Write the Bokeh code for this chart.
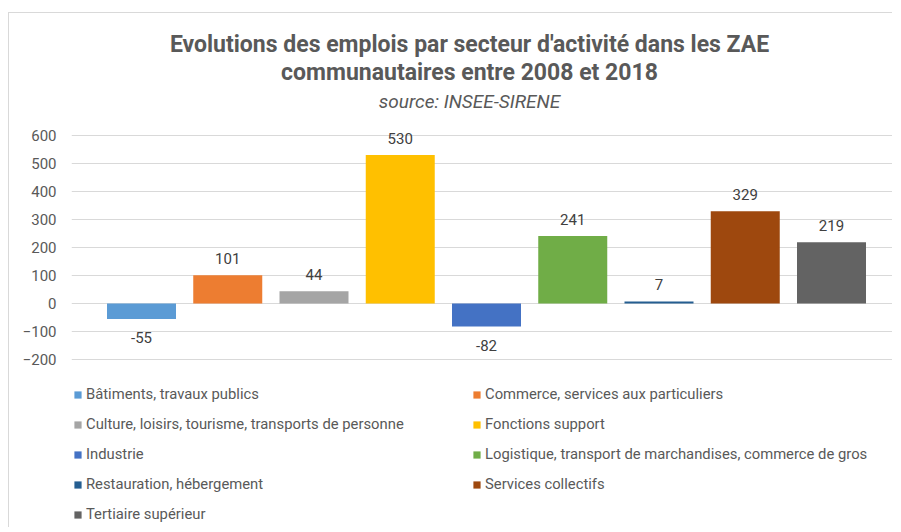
from bokeh.plotting import figure
from bokeh.models import ColumnDataSource, Range1d, Legend, LegendItem, FixedTicker, Label
from bokeh.core.properties import value
from bokeh.embed import file_html
from bokeh.resources import INLINE

categories = [
    "Bâtiments, travaux publics",
    "Commerce, services aux particuliers",
    "Culture, loisirs, tourisme, transports de personne",
    "Fonctions support",
    "Industrie",
    "Logistique, transport de marchandises, commerce de gros",
    "Restauration, hébergement",
    "Services collectifs",
    "Tertiaire supérieur",
]
values = [-55, 101, 44, 530, -82, 241, 7, 329, 219]
colors = ["#5B9BD5", "#ED7D31", "#A5A5A5", "#FFC000", "#4472C4",
          "#70AD47", "#255E91", "#9E480E", "#636363"]
y_ticks = [-200, -100, 0, 100, 200, 300, 400, 500, 600]
title_lines = ["Evolutions des emplois par secteur d'activité dans les ZAE",
               "communautaires entre 2008 et 2018"]
subtitle = "source: INSEE-SIRENE"

FONT = "Roboto"
# page geometry (canvas at page x=9, y=13)
FL, FB = 71, 528          # frame left / bottom in page pixels

x = list(range(len(values)))
src = ColumnDataSource(dict(
    x=x, v=values, color=colors, cat=categories,
    lab=[str(v) for v in values],
    off=[-17 if v >= 0 else 19 for v in values],
))

p = figure(width=884, height=515, output_backend="svg", toolbar_location=None,
           x_range=Range1d(-0.8116, 8.7188), y_range=Range1d(-803.6, 1035.7),
           x_axis_location=None, min_border_left=62, min_border_right=0,
           min_border_top=0, min_border_bottom=0,
           styles={"border-left": "1px solid #d9d9d9", "border-top": "1px solid #d9d9d9",
                   "margin-top": "12px", "margin-left": "8px"})
p.outline_line_color = None
p.xgrid.visible = False
p.ygrid.grid_line_color = "#d9d9d9"
p.ygrid.grid_line_width = 1
p.yaxis.ticker = FixedTicker(ticks=y_ticks)
p.yaxis.axis_line_color = None
p.yaxis.major_tick_line_color = None
p.yaxis.minor_tick_line_color = None
p.yaxis.major_label_text_font = FONT
p.yaxis.major_label_text_font_size = "15px"
p.yaxis.major_label_text_color = "#595959"
p.yaxis.major_label_standoff = 9

r = p.vbar(x="x", top="v", bottom=0, width=0.8, fill_color="color", line_color=None, source=src)

p.text(x="x", y="v", text="lab", y_offset="off", source=src, text_align="center",
       text_baseline="middle", text_font=value(FONT), text_font_size="15px", text_color="#404040")

for txt, cy, size, style in [
    (title_lines[0], 44, "23px", "bold"),
    (title_lines[1], 72, "23px", "bold"),
    (subtitle, 101, "19px", "italic"),
]:
    p.add_layout(Label(x=469 - FL, y=FB - cy, x_units="screen", y_units="screen", text=txt,
                       text_align="center", text_baseline="middle", text_font=FONT,
                       text_font_size=size, text_font_style=style, text_color="#595959"))

def mk(idx, loc):
    items = [LegendItem(label=categories[i], renderers=[r], index=i) for i in idx]
    return Legend(items=items, location=loc, glyph_width=9, glyph_height=9, label_standoff=4,
                  label_text_font=FONT, label_text_font_size="14.8px", label_text_color="#595959",
                  spacing=10, label_height=20, padding=0, margin=0, border_line_color=None,
                  background_fill_alpha=0)

left_idx = list(range(0, len(categories), 2))
right_idx = list(range(1, len(categories), 2))
p.add_layout(mk(left_idx, (73 - FL, FB - 384 - (len(left_idx) * 30 - 10))))
p.add_layout(mk(right_idx, (472 - FL, FB - 384 - (len(right_idx) * 30 - 10))))

open("out.html", "w").write(file_html(p, INLINE))
